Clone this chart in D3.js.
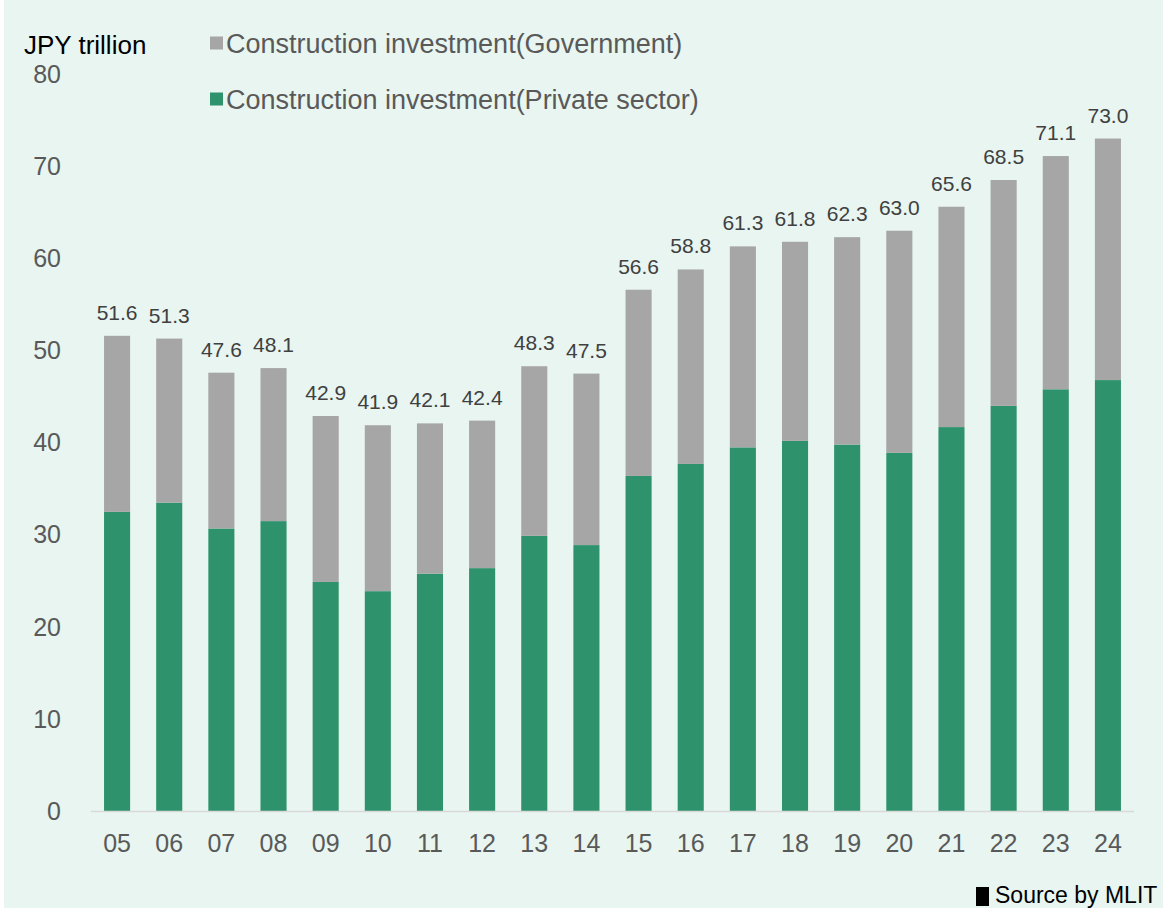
<!DOCTYPE html>
<html>
<head>
<meta charset="utf-8">
<script src="https://cdn.jsdelivr.net/npm/d3@7"></script>
<style>
  html, body { margin: 0; padding: 0; background: #ffffff; }
  svg { display: block; font-family: "Liberation Sans", Arial, sans-serif; }
</style>
</head>
<body>
<svg id="chart" width="1163" height="908"></svg>
<script>
// Fiscal years (two-digit)
const years = ["05","06","07","08","09","10","11","12","13","14",
               "15","16","17","18","19","20","21","22","23","24"];
// Total construction investment, JPY trillion
const totals = [51.6, 51.3, 47.6, 48.1, 42.9, 41.9, 42.1, 42.4, 48.3, 47.5,
                56.6, 58.8, 61.3, 61.8, 62.3, 63.0, 65.6, 68.5, 71.1, 73.0];
// Private-sector construction investment, JPY trillion
const privateSector = [32.5, 33.5, 30.7, 31.5, 24.9, 23.9, 25.8, 26.4, 29.9, 28.9,
                       36.4, 37.7, 39.5, 40.2, 39.8, 38.9, 41.7, 44.0, 45.8, 46.8];
// Government construction investment = total minus private
const government = totals.map((t, i) => +(t - privateSector[i]).toFixed(1));
const yTicks = [0, 10, 20, 30, 40, 50, 60, 70, 80];
const legendLabels = ["Construction investment(Government)", "Construction investment(Private sector)"];

const colors = { gov: "#a6a6a6", priv: "#2e936d", bg: "#e8f5f0" };

const svg = d3.select("#chart");

svg.append("rect")
  .attr("x", 4).attr("y", 0).attr("width", 1159).attr("height", 908)
  .attr("fill", colors.bg);

const x = d3.scaleBand().domain(years).range([91, 1134]).paddingInner(0.5).paddingOuter(0.25);
const y = d3.scaleLinear().domain([0, 80]).range([811.5, 74]);

const rows = years.map((yr, i) => ({ yr, priv: privateSector[i], gov: government[i], total: totals[i] }));
const stack = d3.stack().keys(["priv", "gov"])(rows);

const g = svg.append("g");
g.selectAll("g.layer").data(stack).join("g")
  .attr("class", "layer")
  .attr("fill", d => d.key === "priv" ? colors.priv : colors.gov)
  .selectAll("rect").data(d => d).join("rect")
  .attr("x", d => x(d.data.yr))
  .attr("width", x.bandwidth())
  .attr("y", d => y(d[1]))
  .attr("height", d => y(d[0]) - y(d[1]));

// Total value labels above each bar
g.selectAll("text.total").data(rows).join("text")
  .attr("class", "total")
  .attr("x", d => x(d.yr) + x.bandwidth() / 2)
  .attr("y", d => y(d.priv + d.gov) - 16)
  .attr("text-anchor", "middle")
  .attr("font-size", 21)
  .attr("fill", "#404040")
  .text(d => d.total.toFixed(1));

// Baseline
svg.append("line")
  .attr("x1", 91).attr("x2", 1134)
  .attr("y1", y(0)).attr("y2", y(0))
  .attr("stroke", "#d9d9d9").attr("stroke-width", 1.5);

// Y axis labels
const yAxis = svg.append("g").attr("transform", "translate(61,0)")
  .call(d3.axisLeft(y).tickValues(yTicks).tickSize(0).tickPadding(0).tickFormat(d3.format("d")));
yAxis.select(".domain").remove();
yAxis.selectAll("text")
  .attr("font-size", 25).attr("fill", "#595959")
  .attr("font-family", "Liberation Sans, Arial, sans-serif");

// X axis labels
const xAxis = svg.append("g").attr("transform", `translate(0,${y(0)})`)
  .call(d3.axisBottom(x).tickSize(0).tickPadding(0));
xAxis.select(".domain").remove();
xAxis.selectAll("text")
  .attr("y", 0).attr("dy", null)
  .attr("transform", "translate(0,40.5)")
  .attr("font-size", 25).attr("fill", "#595959")
  .attr("font-family", "Liberation Sans, Arial, sans-serif");

// Unit label
svg.append("text")
  .attr("x", 24).attr("y", 54)
  .attr("font-size", 26).attr("fill", "#000")
  .text("JPY trillion");

// Legend
const legend = svg.append("g");
const legendItems = [
  { label: legendLabels[0], color: colors.gov, base: 53 },
  { label: legendLabels[1], color: colors.priv, base: 109 }
];
legendItems.forEach(it => {
  legend.append("rect")
    .attr("x", 210).attr("y", it.base - 16.5).attr("width", 13).attr("height", 13)
    .attr("fill", it.color);
  legend.append("text")
    .attr("x", 226).attr("y", it.base)
    .attr("font-size", 27).attr("fill", "#595959")
    .text(it.label);
});

// Source note
svg.append("rect")
  .attr("x", 976).attr("y", 887).attr("width", 13).attr("height", 19)
  .attr("fill", "#000");
svg.append("text")
  .attr("x", 995).attr("y", 903)
  .attr("font-size", 23).attr("fill", "#000")
  .text("Source by MLIT");
</script>
</body>
</html>
